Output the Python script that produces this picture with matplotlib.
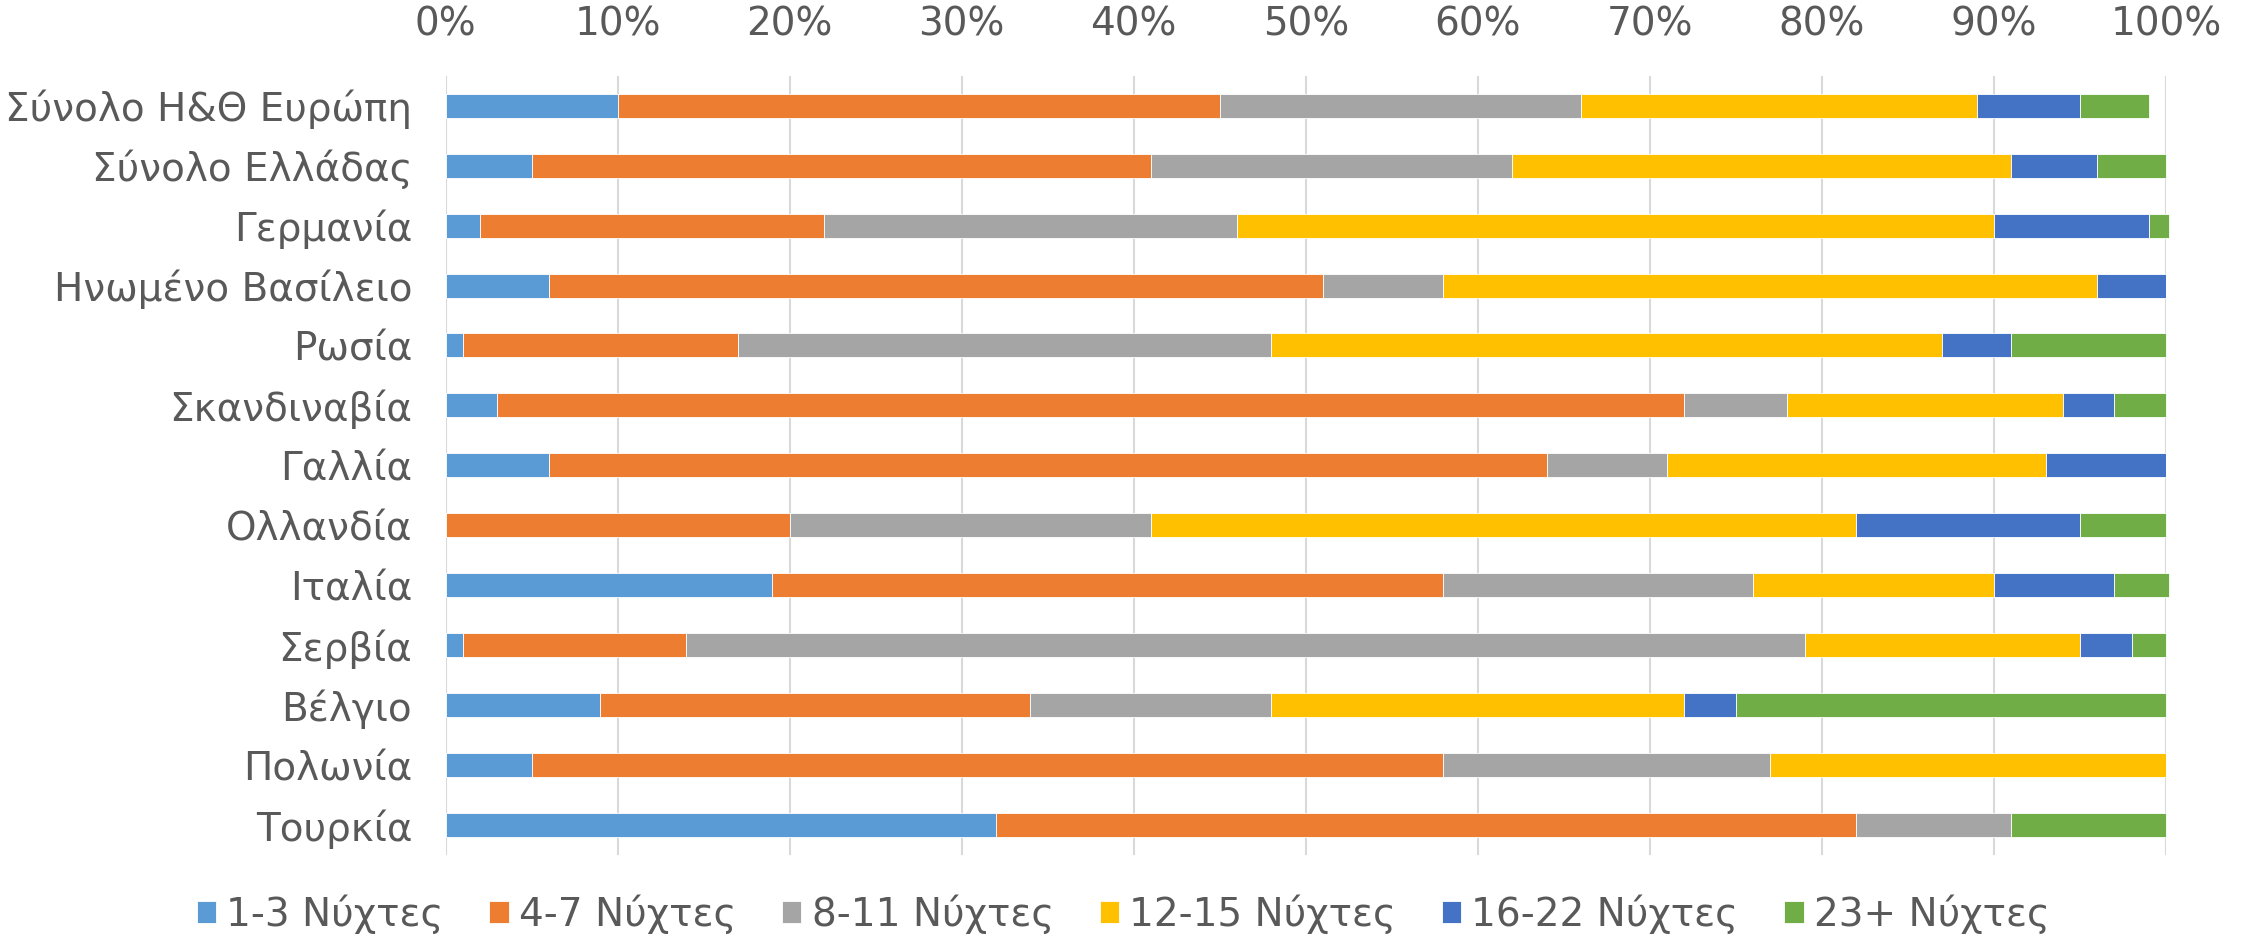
import matplotlib
matplotlib.use("Agg")
import matplotlib.pyplot as plt
import numpy as np
from matplotlib.ticker import FuncFormatter, MultipleLocator

categories = ["Σύνολο Η&Θ Ευρώπη", "Σύνολο Ελλάδας", "Γερμανία", "Ηνωμένο Βασίλειο",
              "Ρωσία", "Σκανδιναβία", "Γαλλία", "Ολλανδία", "Ιταλία", "Σερβία",
              "Βέλγιο", "Πολωνία", "Τουρκία"]
series_names = ["1-3 Νύχτες", "4-7 Νύχτες", "8-11 Νύχτες", "12-15 Νύχτες",
                "16-22 Νύχτες", "23+ Νύχτες"]
n_1_3   = [10, 5, 2, 6, 1, 3, 6, 0, 19, 1, 9, 5, 32]
n_4_7   = [35, 36, 20, 45, 16, 69, 58, 20, 39, 13, 25, 53, 50]
n_8_11  = [21, 21, 24, 7, 31, 6, 7, 21, 18, 65, 14, 19, 9]
n_12_15 = [23, 29, 44, 38, 39, 16, 22, 41, 14, 16, 24, 23, 0]
n_16_22 = [6, 5, 9, 4, 4, 3, 7, 13, 7, 3, 3, 0, 0]
n_23p   = [4, 4, 1.2, 0, 9, 3, 0, 5, 3.2, 2, 25, 0, 9]
series = [n_1_3, n_4_7, n_8_11, n_12_15, n_16_22, n_23p]
colors = ["#5B9BD5", "#ED7D31", "#A5A5A5", "#FFC000", "#4472C4", "#70AD47"]

txt = "#595959"
fs = 28
plt.rcParams['font.family'] = ['DejaVu Sans']

fig = plt.figure(figsize=(22.46, 9.38), dpi=100)
ax = fig.add_axes([445.5/2246, 1-855/938, (2166-445.5)/2246, (855-75.7)/938])

y = np.arange(len(categories))
left = np.zeros(len(categories))
handles = []
for name, vals, c in zip(series_names, series, colors):
    v = np.array(vals, dtype=float) / 100.0
    b = ax.barh(y, v, left=left, height=0.4, color=c, edgecolor="white",
                linewidth=0.6, label=name, zorder=3, clip_on=False)
    handles.append(b)
    left += v

ax.set_xlim(0, 1)
ax.set_ylim(len(categories) - 0.5, -0.5)
ax.xaxis.set_major_locator(MultipleLocator(0.1))
ax.xaxis.set_major_formatter(FuncFormatter(lambda x, p: f"{int(round(x*100))}%"))
ax.xaxis.tick_top()
ax.set_yticks(y)
ax.set_yticklabels(categories)
ax.tick_params(axis='x', length=0, pad=23, labelsize=fs, labelcolor=txt)
ax.tick_params(axis='y', length=0, pad=24, labelsize=fs, labelcolor=txt)
ax.grid(axis='x', color="#D9D9D9", linewidth=1.5, zorder=0)
ax.set_axisbelow(True)
for s in ax.spines.values():
    s.set_visible(False)

fig.legend(handles=handles, labels=series_names, loc="center",
           bbox_to_anchor=(0.5, 1-914/938), ncol=6, frameon=False,
           fontsize=fs, labelcolor=txt, handlelength=0.5, handleheight=0.5,
           handletextpad=0.26, columnspacing=1.18)

fig.savefig("out.png", dpi=100, facecolor="white")
